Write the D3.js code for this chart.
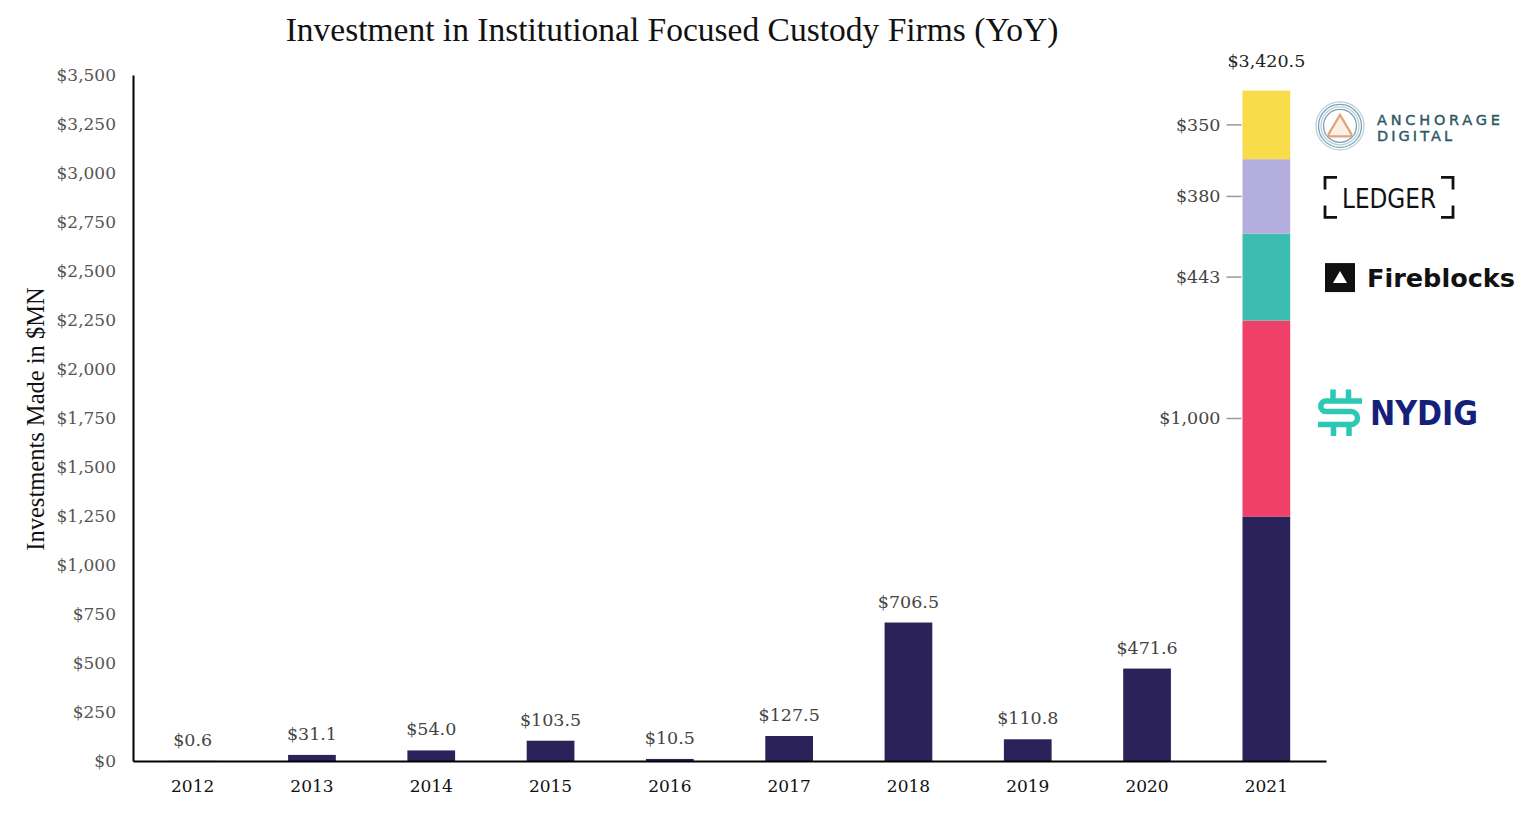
<!DOCTYPE html>
<meta charset="utf-8">
<style type="text/css">
    body { margin: 0; background: #ffffff; }
    svg { display: block; }
    .tick text { font-family: "DejaVu Serif", serif; }
</style>
<svg width="1530" height="820"></svg>
<script type="text/javascript" src="https://cdn.jsdelivr.net/npm/d3@7/dist/d3.min.js"></script>
<script type="text/javascript">

    // yearly totals, $MN
    const years = ["2012", "2013", "2014", "2015", "2016", "2017", "2018", "2019", "2020", "2021"];
    const totals = [0.6, 31.1, 54.0, 103.5, 10.5, 127.5, 706.5, 110.8, 471.6, 3420.5];

    // 2021 split, bottom to top
    const firms2021 = ["Other", "NYDIG", "Fireblocks", "Ledger", "Anchorage Digital"];
    const firmValues2021 = [1247.5, 1000, 443, 380, 350];
    const firmColors = ["#2b2259", "#ee4068", "#3dbdb1", "#b3aedd", "#f9dc4a"];

    const yTicks = [0, 250, 500, 750, 1000, 1250, 1500, 1750, 2000, 2250, 2500, 2750, 3000, 3250, 3500];

    const svg = d3.select("svg");
    const serif = "'DejaVu Serif', serif";
    const navy = "#2b2259";

    const x = d3.scaleBand()
        .domain(years)
        .range([133, 1326])
        .paddingInner(0.6)
        .paddingOuter(0.3);

    const y = d3.scaleLinear()
        .domain([0, 3500])
        .range([761, 75]);

    const money = d => "$" + d3.format(",")(d);
    const money1 = d => "$" + d3.format(",.1f")(d);

    // title
    svg.append("text")
        .attr("x", 672).attr("y", 41)
        .attr("text-anchor", "middle")
        .attr("font-family", "'Liberation Serif', serif")
        .attr("font-size", 33.5)
        .attr("fill", "#111")
        .text("Investment in Institutional Focused Custody Firms (YoY)");

    // y axis
    const yAxis = svg.append("g")
        .attr("transform", "translate(133,0)")
        .call(d3.axisLeft(y).tickValues(yTicks).tickFormat(money).tickSize(0).tickPadding(17));
    yAxis.select(".domain").attr("stroke", "#000").attr("stroke-width", 2);
    yAxis.selectAll(".tick text").attr("font-size", 17).attr("fill", "#555");

    svg.append("text")
        .attr("transform", "translate(44,419) rotate(-90)")
        .attr("text-anchor", "middle")
        .attr("font-family", "'Liberation Serif', serif")
        .attr("font-size", 24.5)
        .attr("fill", "#111")
        .text("Investments Made in $MN");

    // plain bars 2012-2020
    const plain = years.slice(0, 9).map((yr, i) => ({ year: yr, value: totals[i] }));

    svg.selectAll("rect.bar")
        .data(plain)
        .enter()
        .append("rect")
        .attr("class", "bar")
        .attr("x", d => x(d.year))
        .attr("y", d => y(d.value))
        .attr("width", x.bandwidth())
        .attr("height", d => y(0) - y(d.value))
        .attr("fill", navy);

    svg.selectAll("text.val")
        .data(plain)
        .enter()
        .append("text")
        .attr("class", "val")
        .attr("x", d => x(d.year) + x.bandwidth() / 2)
        .attr("y", d => y(d.value) - 15)
        .attr("text-anchor", "middle")
        .attr("font-family", serif)
        .attr("font-size", 17.5)
        .attr("fill", "#444")
        .text(d => money1(d.value));

    // stacked 2021
    let acc = 0;
    const stack = firms2021.map((f, i) => {
        const s = { firm: f, v0: acc, v1: acc + firmValues2021[i], value: firmValues2021[i], color: firmColors[i] };
        acc += firmValues2021[i];
        return s;
    });

    svg.selectAll("rect.seg")
        .data(stack)
        .enter()
        .append("rect")
        .attr("class", "seg")
        .attr("x", x("2021"))
        .attr("y", d => y(d.v1))
        .attr("width", x.bandwidth())
        .attr("height", d => y(d.v0) - y(d.v1))
        .attr("fill", d => d.color);

    const labelled = stack.filter(d => d.firm !== "Other");

    svg.selectAll("line.lead")
        .data(labelled)
        .enter()
        .append("line")
        .attr("class", "lead")
        .attr("x1", x("2021") - 16).attr("x2", x("2021") - 1)
        .attr("y1", d => y((d.v0 + d.v1) / 2))
        .attr("y2", d => y((d.v0 + d.v1) / 2))
        .attr("stroke", "#999")
        .attr("stroke-width", 1.5);

    svg.selectAll("text.seglab")
        .data(labelled)
        .enter()
        .append("text")
        .attr("class", "seglab")
        .attr("x", x("2021") - 22)
        .attr("y", d => y((d.v0 + d.v1) / 2) + 6)
        .attr("text-anchor", "end")
        .attr("font-family", serif)
        .attr("font-size", 17.5)
        .attr("fill", "#444")
        .text(d => money(d.value));

    svg.append("text")
        .attr("x", x("2021") + x.bandwidth() / 2)
        .attr("y", y(totals[9]) - 24)
        .attr("text-anchor", "middle")
        .attr("font-family", serif)
        .attr("font-size", 17.5)
        .attr("fill", "#222")
        .text(money1(totals[9]));

    // x axis
    const xAxis = svg.append("g")
        .attr("transform", "translate(0,761)")
        .call(d3.axisBottom(x).tickSize(0).tickPadding(19));
    xAxis.select(".domain").attr("stroke", "#000").attr("stroke-width", 2);
    xAxis.selectAll(".tick text").attr("font-size", 17).attr("fill", "#111");

    // firm logos, drawn next to their segments
    const logoY = d => y((d.v0 + d.v1) / 2);
    const segOf = name => stack.find(s => s.firm === name);

    // Anchorage Digital
    const anc = svg.append("g").attr("transform", "translate(1340," + (logoY(segOf("Anchorage Digital")) + 1) + ")");
    [24, 21.5, 19, 16.5].forEach((r, i) => {
        anc.append("circle").attr("r", r).attr("fill", "none")
            .attr("stroke", i % 2 ? "#7fa3b5" : "#b8d0db").attr("stroke-width", 1.3);
    });
    anc.append("path")
        .attr("d", "M0,-11 L11,7.5 Q12.5,10.5 9,10.5 L-9,10.5 Q-12.5,10.5 -11,7.5 Z")
        .attr("fill", "#fcefe3").attr("stroke", "#e0a57e").attr("stroke-width", 2.3);
    anc.append("text").attr("x", 37).attr("y", -1)
        .attr("font-family", "'DejaVu Sans', sans-serif").attr("font-size", 14.5)
        .attr("textLength", 123).attr("lengthAdjust", "spacing")
        .attr("fill", "#2d5664").attr("stroke", "#2d5664").attr("stroke-width", 0.4)
        .text("ANCHORAGE");
    anc.append("text").attr("x", 37).attr("y", 15)
        .attr("font-family", "'DejaVu Sans', sans-serif").attr("font-size", 14.5)
        .attr("textLength", 75).attr("lengthAdjust", "spacing")
        .attr("fill", "#2d5664").attr("stroke", "#2d5664").attr("stroke-width", 0.4)
        .text("DIGITAL");

    // Ledger
    const led = svg.append("g").attr("transform", "translate(1325," + (logoY(segOf("Ledger")) - 19) + ")");
    led.append("path")
        .attr("d", "M12,0 H0 V12 M116,0 H128 V12 M0,28 V40 H12 M128,28 V40 H116")
        .attr("fill", "none").attr("stroke", "#111").attr("stroke-width", 2.8);
    led.append("text").attr("x", 64).attr("y", 31)
        .attr("text-anchor", "middle")
        .attr("font-family", "'DejaVu Sans', sans-serif").attr("font-size", 26)
        .attr("textLength", 94).attr("lengthAdjust", "spacingAndGlyphs")
        .attr("fill", "#111").text("LEDGER");

    // Fireblocks
    const fb = svg.append("g").attr("transform", "translate(1325," + (logoY(segOf("Fireblocks")) - 14) + ")");
    fb.append("rect").attr("width", 30).attr("height", 29).attr("fill", "#111");
    fb.append("path").attr("d", "M15,8 L22,20 H8 Z").attr("fill", "#fff");
    fb.append("text").attr("x", 42).attr("y", 24)
        .attr("font-family", "'DejaVu Sans', sans-serif").attr("font-weight", "bold")
        .attr("font-size", 25).attr("textLength", 148).attr("lengthAdjust", "spacingAndGlyphs")
        .attr("fill", "#111").text("Fireblocks");

    // NYDIG
    const ny = svg.append("g").attr("transform", "translate(1318," + (logoY(segOf("NYDIG")) - 28) + ")");
    ny.append("path")
        .attr("d", "M44,10.5 H8 A5.25,5.25 0 0 0 8,21 H33 A6.5,6.5 0 0 1 33,34 H0 M15,-1 V10.5 M30.5,-1 V10.5 M15.5,34 V45.5 M31,34 V45.5")
        .attr("fill", "none").attr("stroke", "#2dc7b5").attr("stroke-width", 5.5);
    ny.append("text").attr("x", 52).attr("y", 35)
        .attr("font-family", "'DejaVu Sans', sans-serif").attr("font-weight", "bold")
        .attr("font-size", 34).attr("textLength", 108).attr("lengthAdjust", "spacingAndGlyphs")
        .attr("fill", "#14217a").text("NYDIG");

</script>
